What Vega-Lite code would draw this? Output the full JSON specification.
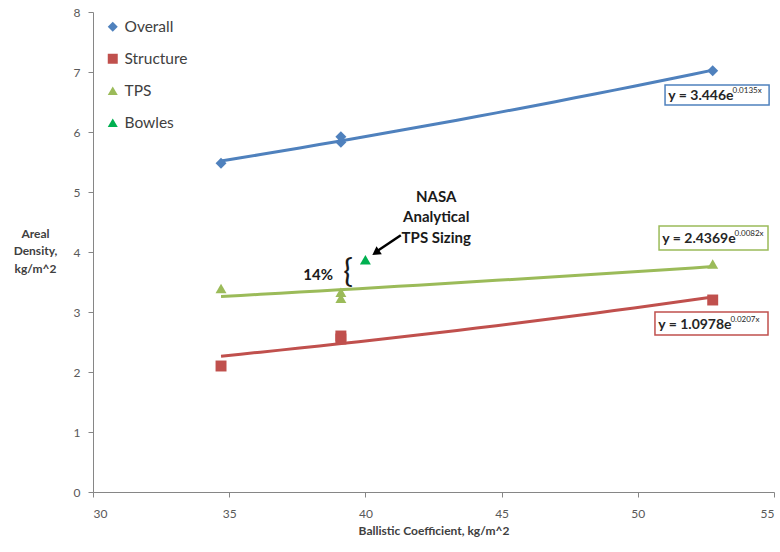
{
  "$schema": "https://vega.github.io/schema/vega-lite/v6.json",
  "width": 681,
  "height": 480,
  "autosize": {"type": "none"},
  "padding": {"left": 93, "top": 12, "right": 6, "bottom": 60},
  "background": "white",
  "config": {
    "view": {"stroke": null},
    "font": "Lato"
  },
  "datasets": {
    "pts": [
      {"series": "Overall", "bc": 34.7, "ad": 5.48},
      {"series": "Overall", "bc": 39.1, "ad": 5.83},
      {"series": "Overall", "bc": 39.1, "ad": 5.92},
      {"series": "Overall", "bc": 52.75, "ad": 7.02},
      {"series": "Structure", "bc": 34.7, "ad": 2.1},
      {"series": "Structure", "bc": 39.1, "ad": 2.55},
      {"series": "Structure", "bc": 39.1, "ad": 2.6},
      {"series": "Structure", "bc": 52.75, "ad": 3.2},
      {"series": "TPS", "bc": 34.7, "ad": 3.39},
      {"series": "TPS", "bc": 39.1, "ad": 3.33},
      {"series": "TPS", "bc": 39.1, "ad": 3.23},
      {"series": "TPS", "bc": 52.75, "ad": 3.8},
      {"series": "Bowles", "bc": 40.0, "ad": 3.87}
    ],
    "boxes": [
      {"series": "Overall", "bc": 51.0, "bc2": 54.82, "ad": 6.783, "ad2": 6.45},
      {"series": "TPS", "bc": 50.78, "bc2": 54.78, "ad": 4.433, "ad2": 4.033},
      {"series": "Structure", "bc": 50.63, "bc2": 54.78, "ad": 3.0, "ad2": 2.617}
    ],
    "eqs": [
      {"bc": 51.12, "ad": 6.60, "text": "y = 3.446e"},
      {"bc": 50.9, "ad": 4.217, "text": "y = 2.4369e"},
      {"bc": 50.75, "ad": 2.79, "text": "y = 1.0978e"}
    ],
    "sups": [
      {"bc": 53.48, "ad": 6.683, "text": "0.0135x"},
      {"bc": 53.55, "ad": 4.30, "text": "0.0082x"},
      {"bc": 53.4, "ad": 2.873, "text": "0.0207x"}
    ],
    "nasa": [
      {"bc": 42.6, "ad": 4.917, "text": "NASA\nAnalytical\nTPS Sizing"}
    ],
    "pct": [
      {"bc": 38.81, "ad": 3.617, "text": "14%"}
    ],
    "brace": [
      {"bc": 39.36, "ad": 3.667, "text": "{"}
    ],
    "arrow": [
      {"bc": 41.3, "ad": 4.28, "bc2": 40.45, "ad2": 4.02}
    ],
    "head": [
      {"bc": 40.38, "ad": 3.99}
    ]
  },
  "encoding": {
    "x": {
      "field": "bc", "type": "quantitative",
      "scale": {"domain": [30, 55], "nice": false, "zero": false},
      "axis": {
        "title": "Ballistic Coefficient, kg/m^2",
        "values": [30, 35, 40, 45, 50, 55],
        "grid": false, "tickSize": 5, "domainColor": "#868686", "tickColor": "#868686",
        "labelColor": "#595959", "labelFontSize": 12, "labelPadding": 11,
        "titleFontSize": 12, "titleFontWeight": "bold", "titleColor": "#404040", "titlePadding": 6
      }
    },
    "y": {
      "field": "ad", "type": "quantitative",
      "scale": {"domain": [0, 8], "nice": false, "zero": true},
      "axis": {
        "title": ["Areal", "Density,", "kg/m^2"],
        "values": [0, 1, 2, 3, 4, 5, 6, 7, 8],
        "grid": false, "tickSize": 5, "domainColor": "#868686", "tickColor": "#868686",
        "labelColor": "#595959", "labelFontSize": 12, "labelPadding": 8,
        "titleFontSize": 12, "titleFontWeight": "bold", "titleColor": "#404040",
        "titleAngle": 0, "titleX": -58, "titleY": 221, "titleAlign": "center",
        "titleBaseline": "middle", "titleLineHeight": 17.5
      }
    }
  },
  "layer": [
    {
      "data": {"name": "pts"},
      "transform": [
        {"filter": "datum.series !== 'Bowles'"},
        {"regression": "ad", "on": "bc", "method": "exp", "groupby": ["series"], "extent": [34.7, 52.75]}
      ],
      "mark": {"type": "line", "strokeWidth": 3},
      "encoding": {
        "stroke": {
          "field": "series", "type": "nominal",
          "scale": {"domain": ["Overall", "Structure", "TPS"], "range": ["#4F81BD", "#C0504D", "#9BBB59"]},
          "legend": null
        }
      }
    },
    {
      "data": {"name": "pts"},
      "mark": {"type": "point", "filled": true, "opacity": 1, "size": 120},
      "encoding": {
        "color": {
          "field": "series", "type": "nominal",
          "scale": {"domain": ["Overall", "Structure", "TPS", "Bowles"], "range": ["#4F81BD", "#C0504D", "#9BBB59", "#00B050"]},
          "legend": {
            "title": null, "orient": "none", "legendX": 12, "legendY": 7,
            "labelFontSize": 15.5, "labelColor": "#404040", "symbolSize": 100,
            "rowPadding": 15, "labelOffset": 4, "symbolStrokeWidth": 0
          }
        },
        "shape": {
          "field": "series", "type": "nominal",
          "scale": {"domain": ["Overall", "Structure", "TPS", "Bowles"], "range": ["diamond", "square", "triangle-up", "triangle-up"]},
          "legend": {
            "title": null, "orient": "none", "legendX": 12, "legendY": 7,
            "labelFontSize": 15.5, "labelColor": "#404040", "symbolSize": 100,
            "rowPadding": 15, "labelOffset": 4, "symbolStrokeWidth": 0
          }
        }
      }
    },
    {
      "data": {"name": "boxes"},
      "mark": {"type": "rect", "fill": "white", "strokeWidth": 1.5},
      "encoding": {
        "x2": {"field": "bc2"},
        "y2": {"field": "ad2"},
        "stroke": {"field": "series", "type": "nominal", "legend": null}
      }
    },
    {
      "data": {"name": "eqs"},
      "mark": {"type": "text", "align": "left", "baseline": "middle", "fontSize": 14, "fontWeight": "bold", "color": "#262626"},
      "encoding": {"text": {"field": "text"}}
    },
    {
      "data": {"name": "sups"},
      "mark": {"type": "text", "align": "left", "baseline": "middle", "fontSize": 8, "color": "#262626"},
      "encoding": {"text": {"field": "text"}}
    },
    {
      "data": {"name": "nasa"},
      "mark": {"type": "text", "align": "center", "baseline": "middle", "fontSize": 15, "fontWeight": "bold", "color": "#1a1a1a", "lineBreak": "\n", "lineHeight": 20.5},
      "encoding": {"text": {"field": "text"}}
    },
    {
      "data": {"name": "pct"},
      "mark": {"type": "text", "align": "right", "baseline": "middle", "fontSize": 15, "fontWeight": "bold", "color": "#1a1a1a"},
      "encoding": {"text": {"field": "text"}}
    },
    {
      "data": {"name": "brace"},
      "mark": {"type": "text", "align": "center", "baseline": "middle", "fontSize": 32, "color": "#1a1a1a"},
      "encoding": {"text": {"field": "text"}}
    },
    {
      "data": {"name": "arrow"},
      "mark": {"type": "rule", "strokeWidth": 2.5, "color": "#000000"},
      "encoding": {
        "x2": {"field": "bc2"},
        "y2": {"field": "ad2"}
      }
    },
    {
      "data": {"name": "head"},
      "mark": {"type": "point", "shape": "triangle-up", "filled": true, "color": "#000000", "size": 90, "angle": 236, "opacity": 1},
      "encoding": {}
    }
  ]
}
